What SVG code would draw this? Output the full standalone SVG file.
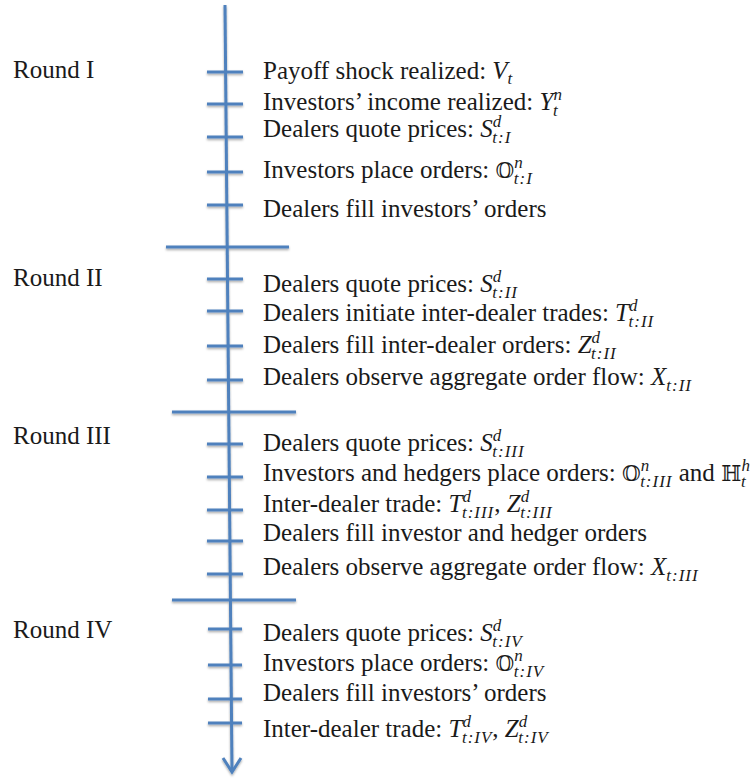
<svg xmlns="http://www.w3.org/2000/svg" width="755" height="779" viewBox="0 0 755 779">
<style>
text{font-family:"Liberation Serif","DejaVu Serif",serif;font-size:25px;fill:#1a1a1a}
.m{font-style:italic}
.s{font-style:italic;font-size:17px;letter-spacing:1px}
.ds{font-family:"DejaVu Serif","DejaVu Sans",serif;font-style:normal;font-size:21.5px}
.ln{stroke:#4F81BD;stroke-width:3;fill:none;stroke-linecap:butt}
</style>
<defs>
<filter id="sh" x="-10%" y="-10%" width="130%" height="130%">
<feDropShadow dx="0" dy="1.5" stdDeviation="0.8" flood-color="#000" flood-opacity="0.35"/>
</filter>
</defs>
<g id="connectors" filter="url(#sh)">
<path class="ln" d="M225,5 L232,771"/>
<polyline class="ln" points="223,758 232,772 241,758"/>
<path class="ln" d="M207,72H243M207,104H243M207,137H243M207,172H243M207,205H243"/>
<path class="ln" d="M166,247H289"/>
<path class="ln" d="M207,279H243M207,311H243M207,346H243M207,380H243"/>
<path class="ln" d="M172,412H296"/>
<path class="ln" d="M207,444H243M207,477H243M207,510H243M207,541H243M207,574H243"/>
<path class="ln" d="M172,600H296"/>
<path class="ln" d="M208,629H242M208,665H242M208,699H242M208,723H242"/>
</g>
<g id="round1"><text x="13" y="78">Round I</text></g>
<g id="round2"><text x="13" y="286">Round II</text></g>
<g id="round3"><text x="13" y="444">Round III</text></g>
<g id="round4"><text x="13" y="638">Round IV</text></g>
<g id="r1e1"><text x="263" y="79">Payoff shock realized: <tspan class="m">V</tspan><tspan class="s" dy="5">t</tspan></text></g>
<g id="r1e2"><text x="263" y="110">Investors’ income realized: <tspan class="m">Y</tspan><tspan class="s" dy="-10">n</tspan><tspan class="s" dx="-10" dy="16">t</tspan></text></g>
<g id="r1e3"><text x="263" y="137">Dealers quote prices: <tspan class="m">S</tspan><tspan class="s" dy="-10">d</tspan><tspan class="s" dx="-10" dy="16">t:I</tspan></text></g>
<g id="r1e4"><text x="263" y="178">Investors place orders: <tspan class="ds">𝕆</tspan><tspan class="s" dy="-10">n</tspan><tspan class="s" dx="-10" dy="16">t:I</tspan></text></g>
<g id="r1e5"><text x="263" y="217">Dealers fill investors’ orders</text></g>
<g id="r2e1"><text x="263" y="292">Dealers quote prices: <tspan class="m">S</tspan><tspan class="s" dy="-10">d</tspan><tspan class="s" dx="-10" dy="16">t:II</tspan></text></g>
<g id="r2e2"><text x="263" y="321">Dealers initiate inter-dealer trades: <tspan class="m">T</tspan><tspan class="s" dy="-10">d</tspan><tspan class="s" dx="-10" dy="16">t:II</tspan></text></g>
<g id="r2e3"><text x="263" y="353">Dealers fill inter-dealer orders: <tspan class="m">Z</tspan><tspan class="s" dy="-10">d</tspan><tspan class="s" dx="-10" dy="16">t:II</tspan></text></g>
<g id="r2e4"><text x="263" y="385">Dealers observe aggregate order flow: <tspan class="m">X</tspan><tspan class="s" dy="6">t:II</tspan></text></g>
<g id="r3e1"><text x="263" y="451">Dealers quote prices: <tspan class="m">S</tspan><tspan class="s" dy="-10">d</tspan><tspan class="s" dx="-10" dy="16">t:III</tspan></text></g>
<g id="r3e2"><text x="263" y="481">Investors and hedgers place orders: <tspan class="ds">𝕆</tspan><tspan class="s" dy="-10">n</tspan><tspan class="s" dx="-10" dy="16">t:III</tspan><tspan dy="-6"> and </tspan><tspan class="ds">ℍ</tspan><tspan class="s" dy="-10">h</tspan><tspan class="s" dx="-10" dy="16">t</tspan></text></g>
<g id="r3e3"><text x="263" y="512">Inter-dealer trade: <tspan class="m">T</tspan><tspan class="s" dy="-10">d</tspan><tspan class="s" dx="-10" dy="16">t:III</tspan><tspan dy="-6">, </tspan><tspan class="m">Z</tspan><tspan class="s" dy="-10">d</tspan><tspan class="s" dx="-10" dy="16">t:III</tspan></text></g>
<g id="r3e4"><text x="263" y="541">Dealers fill investor and hedger orders</text></g>
<g id="r3e5"><text x="263" y="575">Dealers observe aggregate order flow: <tspan class="m">X</tspan><tspan class="s" dy="6">t:III</tspan></text></g>
<g id="r4e1"><text x="263" y="641">Dealers quote prices: <tspan class="m">S</tspan><tspan class="s" dy="-10">d</tspan><tspan class="s" dx="-10" dy="16">t:IV</tspan></text></g>
<g id="r4e2"><text x="263" y="671">Investors place orders: <tspan class="ds">𝕆</tspan><tspan class="s" dy="-10">n</tspan><tspan class="s" dx="-10" dy="16">t:IV</tspan></text></g>
<g id="r4e3"><text x="263" y="701">Dealers fill investors’ orders</text></g>
<g id="r4e4"><text x="263" y="737">Inter-dealer trade: <tspan class="m">T</tspan><tspan class="s" dy="-10">d</tspan><tspan class="s" dx="-10" dy="16">t:IV</tspan><tspan dy="-6">, </tspan><tspan class="m">Z</tspan><tspan class="s" dy="-10">d</tspan><tspan class="s" dx="-10" dy="16">t:IV</tspan></text></g>
</svg>
